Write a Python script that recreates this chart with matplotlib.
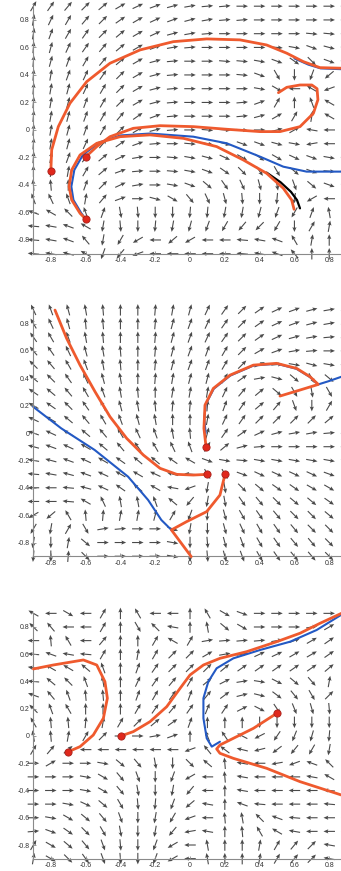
import numpy as np
import matplotlib
matplotlib.use('Agg')
from matplotlib import pyplot as plt

plt.rcParams['font.family'] = ['Liberation Sans', 'DejaVu Sans']
plt.rcParams['axes.unicode_minus'] = False

# grid of the vector field (same for all three panels)
grid = [-0.9, -0.8, -0.7, -0.6, -0.5, -0.4, -0.3, -0.2, -0.1, 0.0,
        0.1, 0.2, 0.3, 0.4, 0.5, 0.6, 0.7, 0.8, 0.9]
ticks = [-0.8, -0.6, -0.4, -0.2, 0, 0.2, 0.4, 0.6, 0.8]
tick_labels = ['-0.8', '-0.6', '-0.4', '-0.2', '0', '0.2', '0.4', '0.6', '0.8']

# arrow directions in degrees, rows from y=0.9 (top) to y=-0.9, columns x=-0.9..0.9
field1 = [
    [60, 55, 50, 45, 40, 30, 25, 20, 15, 10, 5, 5, 0, 0, 0, 0, 0, 0, 0],
    [80, 65, 60, 50, 45, 35, 30, 25, 20, 15, 10, 5, 5, 0, 0, 0, 0, 0, 0],
    [80, 70, 60, 55, 45, 40, 30, 25, 15, 10, 5, 0, 0, 0, 0, 0, -5, -5, 0],
    [85, 75, 65, 55, 50, 40, 30, 20, 10, 5, 0, 0, 0, 0, -5, -10, -20, -15, -5],
    [85, 75, 70, 60, 50, 40, 30, 15, 5, 0, 0, -5, -5, -10, -20, -35, -45, -20, -5],
    [85, 80, 70, 65, 55, 45, 30, 15, 5, 0, 0, 0, -5, -20, -60, -90, -110, -140, -150],
    [85, 80, 75, 65, 60, 45, 30, 15, 5, 0, 0, 0, 0, -10, -30, 180, 150, -160, -170],
    [85, 80, 75, 70, 60, 45, 30, 15, 5, 0, 0, 0, 5, 20, 60, 90, 110, 150, 170],
    [85, 80, 75, 70, 60, 50, 35, 20, 5, 0, 0, 0, 5, 15, 30, 60, 80, 150, 170],
    [85, 80, 75, 70, 60, 45, 30, 15, 5, 0, -5, -5, -5, 0, 15, 30, 170, 180, 180],
    [85, 80, 75, 65, 50, 35, 20, 5, 0, -5, -10, -15, -20, -20, -15, -10, -170, 180, 180],
    [85, 80, 70, 55, 40, 25, 10, 0, -5, -10, -15, -25, -30, -35, -30, -25, -20, -10, 0],
    [90, 85, 80, 60, 40, 20, 5, 0, -5, -10, -20, -35, -45, -55, -60, -40, -20, -5, 0],
    [95, 95, 90, 70, 45, 25, 10, 0, -10, -20, -40, -55, -65, -75, -80, -70, -40, -20, -10],
    [110, 115, 110, 80, 50, 20, 0, -15, -30, -50, -65, -75, -85, -90, -95, -100, -150, 180, 180],
    [160, 150, 135, 110, 70, -80, -85, -90, -90, -95, -95, -100, -100, -105, -110, -120, 70, 100, 150],
    [175, 170, 160, 150, -100, -85, -90, -95, -100, -105, -110, -120, -130, -135, -120, -90, 60, 80, 100],
    [175, 170, 160, 130, -100, -120, -150, 180, -140, -150, 180, 180, 175, 170, 160, 120, 80, 90, 100],
    [175, 170, 165, 150, -110, -130, -160, 180, 180, 180, 180, 180, 175, 170, 160, 130, 90, 90, 95],
]
field2 = [
    [115, 110, 105, 100, 95, 90, 90, 85, 80, 75, 65, 55, 45, 35, 25, 20, 15, 10, 10],
    [120, 115, 105, 95, 95, 90, 90, 85, 75, 70, 65, 55, 45, 35, 25, 20, 15, 10, 10],
    [125, 120, 110, 100, 95, 90, 90, 85, 75, 70, 65, 55, 45, 35, 25, 15, 10, 5, 5],
    [130, 125, 115, 105, 100, 95, 90, 85, 75, 70, 70, 60, 45, 30, 20, 10, 5, 0, 0],
    [135, 130, 120, 110, 100, 95, 90, 85, 75, 70, 70, 60, 45, 25, 5, -10, -15, -10, 0],
    [140, 135, 125, 115, 105, 100, 90, 85, 80, 75, 75, 60, 35, 10, -15, -40, -60, -40, -10],
    [145, 140, 130, 120, 110, 100, 95, 90, 80, 80, 80, 65, 50, 40, -40, -60, -80, -60, -30],
    [150, 145, 135, 125, 115, 105, 100, 95, 85, 85, 85, 70, 55, 40, 50, -70, -90, 60, 45],
    [155, 150, 140, 130, 120, 110, 105, 100, 90, 90, 80, 65, 55, 45, 45, 45, 45, 40, 40],
    [160, 155, 150, 140, 130, 120, 115, 110, 100, 95, 75, 55, 35, 25, 15, 10, 10, 5, 5],
    [165, 160, 155, 150, 140, 130, 125, 120, 115, 110, 60, 40, 15, 5, 0, 0, 0, 0, 0],
    [170, 165, 160, 155, 150, 145, 140, 140, 145, 150, -20, -10, -5, -10, -10, -10, -10, -10, -10],
    [175, 170, 165, 160, 155, 150, 150, 155, 165, 175, -60, -60, -20, -25, -25, -25, -25, -20, -20],
    [180, 180, 175, 165, 155, 145, 140, 150, 170, -160, -100, -80, -45, -40, -35, -35, -30, -30, -30],
    [180, 180, 175, 150, 115, 100, 100, 110, 140, -130, -100, -80, -55, -50, -45, -40, -40, -35, -35],
    [-150, -140, 120, 95, 85, 80, 80, 75, 60, -110, -95, -75, -60, -55, -50, -45, -45, -40, -40],
    [-120, -100, 60, -60, 10, 5, 0, 0, -20, -100, -90, -75, -65, -60, -55, -50, -45, -45, -45],
    [-100, -90, 80, -40, 0, 0, 0, 0, -10, -90, -85, -75, -70, -60, -55, -50, -50, -45, -45],
    [-95, -90, 85, -45, 0, 0, 0, 0, -10, -90, -85, -75, -70, -60, -55, -50, -50, -45, -45],
]
field3 = [
    [150, 180, -30, 180, 60, 90, 120, 180, 180, 90, 120, -30, -20, 0, 0, 0, 0, 0, 0],
    [135, 130, 180, 180, 60, 90, -60, 135, 170, 90, 100, -40, -30, 0, 0, 0, 10, 30, 45],
    [180, 95, 120, 180, 50, 90, 90, 60, 150, 60, 10, 5, 5, 5, 10, 20, 30, 35, 60],
    [175, 160, 170, 175, 60, 90, 80, 60, 45, 45, 30, 10, 10, 25, 25, 30, 30, 35, 70],
    [170, 150, 150, 140, 110, 90, 70, 55, 45, 45, 45, 40, 35, 35, 35, 35, 35, 40, 80],
    [175, 140, 135, 110, 100, 90, 65, 55, 50, 60, 40, 27, 9, -9, -27, -40, -49, 80, 80],
    [160, 130, 110, 95, 95, 90, 70, 60, 55, 70, 51, 37, 14, -14, -37, -51, -60, 45, 60],
    [135, 110, 120, 90, 90, 90, 60, 55, 50, 55, 68, 56, 27, -27, -56, -68, -74, -85, -80],
    [120, 95, 95, 85, 80, 60, 45, 40, 35, 70, 90, 90, 90, -90, -90, -90, -90, -90, -80],
    [100, 95, 80, 60, 45, 0, 0, 10, 20, 90, 112, 124, 153, -153, -124, -112, -106, -95, -85],
    [60, 50, 40, 180, 180, 180, 180, 180, 180, -160, 129, 143, 166, -166, -143, -129, -120, -100, -60],
    [0, 30, 0, 0, -10, -40, -50, -80, -90, -45, 140, 95, 170, 180, -170, -160, 160, 135, 60],
    [0, 0, 0, -10, -30, -50, -70, -90, -110, -150, 180, 95, 170, 180, 180, 180, 170, 150, 135],
    [0, 0, 0, -10, -30, -50, -80, -90, -100, -130, 180, 90, 170, 180, 180, 180, 180, 175, 170],
    [0, 0, -10, -25, -40, -60, -85, -95, -110, -140, 170, 90, 160, 175, 180, 180, 180, 175, 170],
    [0, -10, -30, -40, -50, -70, -90, -100, -120, -160, 180, 95, 100, 135, 160, 175, 180, 180, 180],
    [5, -20, -35, -45, -60, -80, -90, -100, -130, -170, 170, 90, 95, 120, 150, 170, 180, 180, 180],
    [60, -30, -40, -50, -70, -85, -90, -110, -150, 180, 100, 90, 90, 80, 60, 50, 45, 170, 180],
    [80, -30, -45, -55, -70, -85, -90, -110, -150, 180, 100, 90, 90, 80, 60, 50, 45, 170, 180],
]

# trajectories, panel 1
p1_outer = [(-0.8, -0.3), (-0.795, -0.145), (-0.757, 0.024), (-0.69, 0.194), (-0.594, 0.351),
            (-0.46, 0.485), (-0.287, 0.582), (-0.096, 0.642), (0.096, 0.662), (0.287, 0.655),
            (0.44, 0.618), (0.556, 0.558), (0.651, 0.497), (0.747, 0.453), (0.87, 0.449)]
p1_outer_blue = [(0.6, 0.52), (0.68, 0.475), (0.75, 0.448), (0.87, 0.442)]
p1_loop = [(-0.598, -0.194), (-0.536, -0.121), (-0.46, -0.049), (-0.326, 0.012), (-0.172, 0.031),
           (0.019, 0.024), (0.211, 0.005), (0.402, -0.012), (0.517, -0.012), (0.632, 0.024),
           (0.709, 0.121), (0.735, 0.22), (0.73, 0.3), (0.7, 0.327), (0.632, 0.327),
           (0.556, 0.31), (0.508, 0.271)]
p1_lower = [(-0.598, -0.65), (-0.632, -0.606), (-0.68, -0.509), (-0.695, -0.412), (-0.68, -0.291),
            (-0.632, -0.182), (-0.536, -0.097), (-0.402, -0.049), (-0.23, -0.036), (-0.038, -0.061),
            (0.153, -0.121), (0.306, -0.218), (0.44, -0.315), (0.536, -0.424), (0.584, -0.509),
            (0.598, -0.577)]
p1_black = [(0.44, -0.31), (0.52, -0.38), (0.58, -0.45), (0.615, -0.51), (0.632, -0.57)]
p1_blue = [(-0.598, -0.65), (-0.625, -0.605), (-0.67, -0.509), (-0.682, -0.412), (-0.665, -0.291),
           (-0.615, -0.18), (-0.52, -0.09), (-0.4, -0.04), (-0.23, -0.026), (0.019, -0.049),
           (0.211, -0.097), (0.402, -0.194), (0.536, -0.267), (0.67, -0.303), (0.87, -0.303)]
p1_dots = [(-0.8, -0.3), (-0.598, -0.194), (-0.598, -0.65)]

# trajectories, panel 2
p2_diag = [(-0.776, 0.898), (-0.709, 0.691), (-0.632, 0.496), (-0.546, 0.302), (-0.46, 0.119),
           (-0.364, -0.039), (-0.268, -0.161), (-0.172, -0.258), (-0.076, -0.302), (0.019, -0.307),
           (0.1, -0.302)]
p2_blue = [(-0.902, 0.192), (-0.74, 0.034), (-0.548, -0.124), (-0.356, -0.319), (-0.241, -0.489),
           (-0.165, -0.635), (-0.107, -0.708)]
p2_low = [(0.201, -0.302), (0.172, -0.453), (0.096, -0.574), (-0.019, -0.647), (-0.107, -0.708),
          (0.007, -0.903)]
p2_arc = [(0.092, -0.1), (0.08, 0.034), (0.086, 0.204), (0.134, 0.326), (0.23, 0.423),
          (0.364, 0.496), (0.498, 0.509), (0.613, 0.472), (0.69, 0.411), (0.737, 0.355),
          (0.632, 0.314), (0.517, 0.27)]
p2_arc_blue = [(0.09, 0.0), (0.082, 0.1), (0.09, 0.21), (0.137, 0.324), (0.232, 0.42),
               (0.365, 0.493), (0.498, 0.506), (0.612, 0.469), (0.69, 0.408), (0.737, 0.355),
               (0.8, 0.38), (0.87, 0.411)]
p2_dots = [(0.092, -0.1), (0.1, -0.302), (0.201, -0.302)]

# trajectories, panel 3
p3_left = [(-0.9, 0.492), (-0.786, 0.521), (-0.613, 0.558), (-0.536, 0.521), (-0.489, 0.399),
           (-0.475, 0.277), (-0.498, 0.13), (-0.556, 0.007), (-0.632, -0.078), (-0.699, -0.115)]
p3_mid = [(-0.398, 0.0), (-0.326, 0.032), (-0.23, 0.105), (-0.134, 0.215), (-0.057, 0.35),
          (0.0, 0.448), (0.077, 0.521), (0.172, 0.57), (0.326, 0.619), (0.498, 0.692),
          (0.632, 0.754), (0.747, 0.827), (0.87, 0.9)]
p3_blue = [(0.172, -0.042), (0.125, -0.078), (0.096, -0.017), (0.077, 0.13), (0.077, 0.277),
           (0.105, 0.399), (0.153, 0.497), (0.249, 0.57), (0.402, 0.631), (0.575, 0.692),
           (0.728, 0.778), (0.87, 0.89)]
p3_v = [(0.498, 0.166), (0.364, 0.056), (0.249, -0.017), (0.172, -0.066), (0.153, -0.095),
        (0.172, -0.127), (0.249, -0.164), (0.44, -0.237), (0.632, -0.335), (0.87, -0.433)]
p3_dots = [(-0.699, -0.115), (-0.398, 0.0), (0.498, 0.166)]

RED = '#ef5a2e'
BLUE = '#2359c4'
DOT = '#e0281c'

fig = plt.figure(figsize=(3.41, 8.71), dpi=100)
positions = [[0.098, 0.7087, 0.9185, 0.2842],
             [0.098, 0.3614, 0.9185, 0.2829],
             [0.098, 0.0142, 0.9185, 0.2816]]


def setup(ax):
    ax.set_xlim(-0.9, 0.9)
    ax.set_ylim(-0.9, 0.9)
    ax.set_xticks(ticks)
    ax.set_xticklabels(tick_labels)
    ax.set_yticks(ticks)
    ax.set_yticklabels(tick_labels)
    ax.tick_params(direction='in', length=2, width=0.6, colors='#8a8a8a',
                   labelcolor='#333333', labelsize=5.0, pad=2.5)
    for s in ['top', 'right']:
        ax.spines[s].set_visible(False)
    for s in ['left', 'bottom']:
        ax.spines[s].set_color('#8a8a8a')
        ax.spines[s].set_linewidth(0.8)


def draw_field(ax, deg_rows):
    ang = np.deg2rad(np.array(deg_rows, dtype=float))
    X, Y = np.meshgrid(grid, grid[::-1])
    q = ax.quiver(X, Y, np.cos(ang), np.sin(ang), angles='uv', pivot='middle',
                  units='dots', scale_units='dots', scale=1 / 11.5, width=1.1,
                  headwidth=3.8, headlength=4.4, headaxislength=3.8,
                  color='#4a4a4a', zorder=1)
    q.set_clip_on(False)


def line(ax, pts, color, lw, z):
    xs = [p[0] for p in pts]
    ys = [p[1] for p in pts]
    ax.plot(xs, ys, color=color, lw=lw, solid_capstyle='round', solid_joinstyle='round',
            zorder=z, clip_on=False)


def dots(ax, pts):
    xs = [p[0] for p in pts]
    ys = [p[1] for p in pts]
    ax.plot(xs, ys, 'o', ms=5.2, mfc=DOT, mec='#a8201a', mew=0.6, zorder=6, clip_on=False)


ax1 = fig.add_axes(positions[0])
setup(ax1)
draw_field(ax1, field1)
line(ax1, p1_outer_blue, BLUE, 1.5, 2)
line(ax1, p1_blue, BLUE, 1.5, 2)
line(ax1, p1_black, 'black', 1.6, 2)
line(ax1, p1_outer, RED, 2.0, 3)
line(ax1, p1_loop, RED, 2.0, 3)
line(ax1, p1_lower, RED, 2.0, 3)
dots(ax1, p1_dots)

ax2 = fig.add_axes(positions[1])
setup(ax2)
draw_field(ax2, field2)
line(ax2, p2_blue, BLUE, 1.5, 2)
line(ax2, p2_arc_blue, BLUE, 1.5, 2)
line(ax2, p2_diag, RED, 2.0, 3)
line(ax2, p2_low, RED, 2.0, 3)
line(ax2, p2_arc, RED, 2.0, 3)
dots(ax2, p2_dots)

ax3 = fig.add_axes(positions[2])
setup(ax3)
draw_field(ax3, field3)
line(ax3, p3_blue, BLUE, 1.5, 2)
line(ax3, p3_left, RED, 2.0, 3)
line(ax3, p3_mid, RED, 2.0, 3)
line(ax3, p3_v, RED, 2.0, 3)
dots(ax3, p3_dots)

fig.savefig('out.png', dpi=100)
